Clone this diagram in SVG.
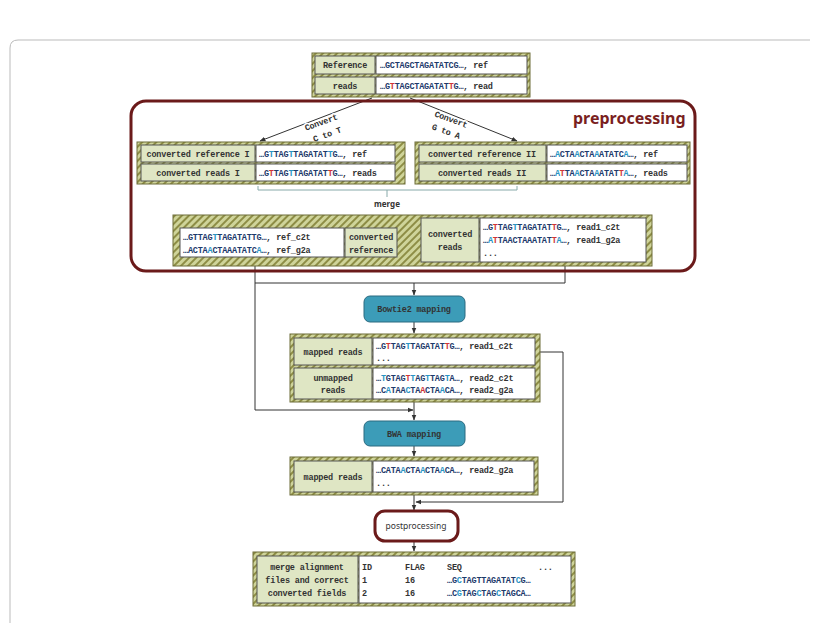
<svg xmlns="http://www.w3.org/2000/svg" width="820" height="623" viewBox="0 0 820 623">
<defs>
<pattern id="hatch" width="5" height="5" patternUnits="userSpaceOnUse" patternTransform="rotate(45)">
<rect width="5" height="5" fill="#cfd49a"/><rect width="2" height="5" fill="#8d8d45"/>
</pattern>
<marker id="ar" viewBox="0 0 10 10" refX="9" refY="5" markerWidth="6" markerHeight="6" orient="auto"><path d="M0,1 L10,5 L0,9 z" fill="#333"/></marker>
<style>
.hb{fill:url(#hatch);stroke:#6d6d38;stroke-width:1}
.lc{fill:#dfe6c4;stroke:#555;stroke-width:1}
.vc{fill:#fff;stroke:#555;stroke-width:1}
text{font-family:"Liberation Mono","DejaVu Sans Mono",monospace;font-size:8.5px;font-weight:bold;fill:#333;letter-spacing:-0.2px}
.m{text-anchor:middle}
.s{fill:#1d3a6b}
.b{fill:#2a94c4}
.r{fill:#d03535}
.ln{fill:none;stroke:#333;stroke-width:1}
.tl{fill:#3c9cb8;stroke:#2a6a80;stroke-width:1}
.sf{font-family:"Noto Sans","Liberation Sans",sans-serif;font-weight:normal;letter-spacing:0}
.h{paint-order:stroke;stroke:#fff;stroke-width:3px}
</style>
</defs>
<rect width="820" height="623" fill="#fff"/>
<path d="M10,623 V48 Q10,40 18,40 H810" fill="none" stroke="#bbb" stroke-width="1"/>

<g id="connectors">
<line class="ln" x1="372" y1="98" x2="260" y2="141" marker-end="url(#ar)"/>
<line class="ln" x1="410" y1="98" x2="517" y2="141" marker-end="url(#ar)"/>
<path d="M258,186 V190 H517 V186 M387,190 V197" fill="none" stroke="#8aa" stroke-width="1"/>
<path class="ln" d="M255,266 V410 H413" marker-end="url(#ar)"/>
<path class="ln" d="M565,266 V283 H255"/>
<line class="ln" x1="414" y1="283" x2="414" y2="295" marker-end="url(#ar)"/>
<line class="ln" x1="414" y1="322" x2="414" y2="333" marker-end="url(#ar)"/>
<line class="ln" x1="414" y1="402" x2="414" y2="420" marker-end="url(#ar)"/>
<line class="ln" x1="414" y1="446" x2="414" y2="456" marker-end="url(#ar)"/>
<path class="ln" d="M535,352 H563 V502 H416" marker-end="url(#ar)"/>
<line class="ln" x1="414" y1="495" x2="414" y2="510" marker-end="url(#ar)"/>
<line class="ln" x1="414" y1="541" x2="414" y2="551" marker-end="url(#ar)"/>
</g>

<g id="preprocessing">
<rect x="131" y="101" width="564" height="170" rx="15" fill="none" stroke="#6b1a1a" stroke-width="3"/>
<text x="573" y="124" class="sf" style="font-size:16px;fill:#7a1f1f;font-weight:bold">preprocessing</text>
<text transform="translate(322,125) rotate(-20)" class="m h">Convert</text>
<text transform="translate(328,137) rotate(-20)" class="m h">C to T</text>
<text transform="translate(450,122) rotate(20)" class="m h">Convert</text>
<text transform="translate(445,134) rotate(20)" class="m h">G to A</text>
<text x="387" y="207" class="m sf" style="font-size:8px;font-weight:bold">merge</text>
</g>

<g id="input">
<rect class="hb" x="312" y="53" width="218" height="44"/>
<rect class="lc" x="315" y="56" width="60" height="18"/><rect class="vc" x="376" y="56" width="151" height="18"/>
<rect class="lc" x="315" y="77" width="60" height="17"/><rect class="vc" x="376" y="77" width="151" height="17"/>
<text x="345" y="68" class="m">Reference</text>
<text x="380" y="68"><tspan class="s">…GCTAGCTAGATATCG…</tspan>, ref</text>
<text x="345" y="89" class="m">reads</text>
<text x="380" y="89"><tspan class="s">…G<tspan class="r">T</tspan>TAGCTAGATAT<tspan class="r">T</tspan>G…</tspan>, read</text>
</g>

<g id="converted1">
<rect class="hb" x="137" y="142" width="268" height="42"/>
<rect class="lc" x="141" y="145" width="114" height="17"/><rect class="vc" x="256" y="145" width="139" height="17"/>
<rect class="lc" x="141" y="164" width="114" height="17"/><rect class="vc" x="256" y="164" width="139" height="17"/>
<text x="198" y="157" class="m">converted reference I</text>
<text x="259" y="157"><tspan class="s">…G<tspan class="b">T</tspan>TAG<tspan class="b">T</tspan>TAGATAT<tspan class="b">T</tspan>G…</tspan>, ref</text>
<text x="198" y="176" class="m">converted reads I</text>
<text x="259" y="176"><tspan class="s">…G<tspan class="r">T</tspan>TAG<tspan class="b">T</tspan>TAGATAT<tspan class="r">T</tspan>G…</tspan>, reads</text>
</g>

<g id="converted2">
<rect class="hb" x="415" y="142" width="275" height="42"/>
<rect class="lc" x="419" y="145" width="127" height="17"/><rect class="vc" x="547" y="145" width="140" height="17"/>
<rect class="lc" x="419" y="164" width="127" height="17"/><rect class="vc" x="547" y="164" width="140" height="17"/>
<text x="482" y="157" class="m">converted reference II</text>
<text x="550" y="157"><tspan class="s">…<tspan class="b">A</tspan>CTA<tspan class="b">A</tspan>CTA<tspan class="b">A</tspan>ATATC<tspan class="b">A</tspan>…</tspan>, ref</text>
<text x="482" y="176" class="m">converted reads II</text>
<text x="550" y="176"><tspan class="s">…<tspan class="b">A</tspan><tspan class="r">T</tspan>TA<tspan class="b">A</tspan>CTA<tspan class="b">A</tspan>ATAT<tspan class="r">T</tspan><tspan class="b">A</tspan>…</tspan>, reads</text>
</g>

<g id="merged">
<rect class="hb" x="173" y="215" width="479" height="51"/>
<rect class="vc" x="180" y="228" width="164" height="29"/>
<rect class="lc" x="345" y="228" width="52" height="29"/>
<text x="183" y="240"><tspan class="s">…GTTAG<tspan class="b">T</tspan>TAGATATTG…</tspan>, ref_c2t</text>
<text x="183" y="253"><tspan class="s">…ACTA<tspan class="b">A</tspan>CTAAATATC<tspan class="b">A</tspan>…</tspan>, ref_g2a</text>
<text x="371" y="240" class="m">converted</text>
<text x="371" y="253" class="m">reference</text>
<rect class="lc" x="421" y="218" width="58" height="44"/>
<rect class="vc" x="480" y="218" width="166" height="44"/>
<text x="450" y="237" class="m">converted</text>
<text x="450" y="250" class="m">reads</text>
<text x="483" y="230"><tspan class="s">…G<tspan class="r">T</tspan>TAG<tspan class="b">T</tspan>TAGATAT<tspan class="r">T</tspan>G…</tspan>, read1_c2t</text>
<text x="483" y="243"><tspan class="s">…<tspan class="b">A</tspan><tspan class="r">T</tspan>TAACTAAATAT<tspan class="r">T</tspan><tspan class="b">A</tspan>…</tspan>, read1_g2a</text>
<text x="483" y="256">...</text>
</g>

<g id="bowtie2">
<rect class="tl" x="364" y="296" width="101" height="26" rx="6"/>
<text x="414" y="312" class="m">Bowtie2 mapping</text>
</g>

<g id="mapped1">
<rect class="hb" x="290" y="334" width="250" height="68"/>
<rect class="lc" x="294" y="338" width="78" height="27"/><rect class="vc" x="373" y="338" width="162" height="27"/>
<rect class="lc" x="294" y="368" width="78" height="31"/><rect class="vc" x="373" y="368" width="162" height="31"/>
<text x="333" y="355" class="m">mapped reads</text>
<text x="376" y="349"><tspan class="s">…G<tspan class="r">T</tspan>TAG<tspan class="b">T</tspan>TAGATAT<tspan class="r">T</tspan>G…</tspan>, read1_c2t</text>
<text x="376" y="361">...</text>
<text x="333" y="381" class="m">unmapped</text>
<text x="333" y="393" class="m">reads</text>
<text x="376" y="381"><tspan class="s">…<tspan class="b">T</tspan>GTAG<tspan class="r">T</tspan><tspan class="b">T</tspan>AG<tspan class="b">T</tspan>TAG<tspan class="b">T</tspan>A…</tspan>, read2_c2t</text>
<text x="376" y="393"><tspan class="s">…C<tspan class="b">A</tspan>TAA<tspan class="b">C</tspan>TA<tspan class="r">A</tspan>CTA<tspan class="b">A</tspan>CA…</tspan>, read2_g2a</text>
</g>

<g id="bwa">
<rect class="tl" x="364" y="421" width="101" height="25" rx="6"/>
<text x="414" y="437" class="m">BWA mapping</text>
</g>

<g id="mapped2">
<rect class="hb" x="290" y="457" width="248" height="38"/>
<rect class="lc" x="294" y="461" width="78" height="31"/><rect class="vc" x="373" y="461" width="161" height="31"/>
<text x="333" y="480" class="m">mapped reads</text>
<text x="376" y="473"><tspan class="s">…CATA<tspan class="b">A</tspan>CTA<tspan class="b">A</tspan>CTA<tspan class="b">A</tspan>CA…</tspan>, read2_g2a</text>
<text x="376" y="486">...</text>
</g>

<g id="postprocessing">
<rect x="375" y="511" width="83" height="30" rx="10" fill="#fff" stroke="#6b1a1a" stroke-width="3"/>
<text x="416" y="529" class="m sf" style="font-size:8.5px">postprocessing</text>
</g>

<g id="final">
<rect class="hb" x="253" y="552" width="322" height="54"/>
<rect class="lc" x="257" y="556" width="101" height="47"/><rect class="vc" x="359" y="556" width="212" height="47"/>
<text x="307" y="570" class="m">merge alignment</text>
<text x="307" y="583" class="m">files and correct</text>
<text x="307" y="596" class="m">converted fields</text>
<text x="362" y="570">ID</text><text x="405" y="570">FLAG</text><text x="447" y="570">SEQ</text><text x="538" y="570">...</text>
<text x="362" y="583">1</text><text x="405" y="583">16</text>
<text x="447" y="583"><tspan class="s">…G<tspan class="b">C</tspan>TAGTTAGATAT<tspan class="b">C</tspan>G…</tspan></text>
<text x="362" y="596">2</text><text x="405" y="596">16</text>
<text x="447" y="596"><tspan class="s">…C<tspan class="b">G</tspan>TAG<tspan class="b">C</tspan>TAG<tspan class="b">C</tspan>TAGCA…</tspan></text>
</g>
</svg>
